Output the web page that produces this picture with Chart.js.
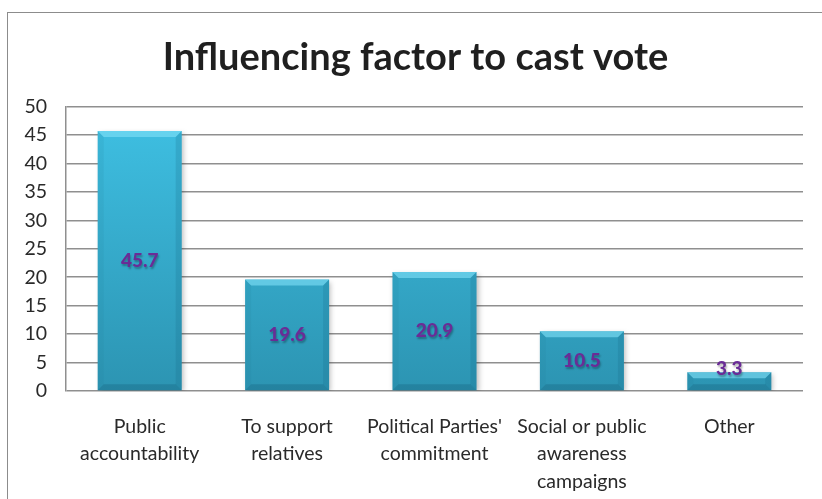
<!DOCTYPE html>
<html>
<head>
<meta charset="utf-8">
<script src="https://cdn.jsdelivr.net/npm/chart.js@4/dist/chart.umd.min.js"></script>
<style>
    html, body { margin: 0; padding: 0; background: #fff; overflow: hidden; }
    #wrap { position: relative; width: 822px; height: 499px; }
    #frame {
        position: absolute; left: 7px; top: 12px; right: -10px; bottom: -10px;
        border: 1.5px solid #8c8c8c; pointer-events: none;
    }
</style>
</head>
<body>
<div id="wrap">
    <canvas id="voteChart" width="822" height="499"></canvas>
    <div id="frame"></div>
</div>
<script>
// Factores que influyen en el voto (porcentaje)
const categories = [
    ['Public', 'accountability'],
    ['To support', 'relatives'],
    ["Political Parties'", 'commitment'],
    ['Social or public', 'awareness', 'campaigns'],
    'Other'
];
const percents = [45.7, 19.6, 20.9, 10.5, 3.3];
const yTicks = [0, 5, 10, 15, 20, 25, 30, 35, 40, 45, 50];

const FONT = 'Lato, "Open Sans", sans-serif';
const gridGray = '#8f8f8f';

// Relleno principal de cada barra: degradado vertical claro -> oscuro
function barFill(context) {
    const { chart } = context;
    const area = chart.chartArea;
    if (!area) return '#38b5d8';
    const g = chart.ctx.createLinearGradient(0, area.top, 0, area.bottom);
    g.addColorStop(0, '#3fc1e4');
    g.addColorStop(1, '#2c94b2');
    return g;
}

// El título va centrado sobre el marco exterior, un poco a la derecha
const titleShift = {
    id: 'titleShift',
    afterLayout(chart) {
        const tb = chart.titleBlock;
        if (!tb) return;
        tb.left += 9;
        tb.right += 9;
    }
};

const bevelBars = {
    id: 'bevelBars',
    beforeDatasetsDraw(chart) {
        const c = chart.ctx;
        c.save();
        c.shadowColor = 'rgba(0,0,0,0.25)';
        c.shadowBlur = 5;
        c.shadowOffsetX = 2;
        c.shadowOffsetY = 2;
    },
    afterDatasetsDraw(chart) {
        const c = chart.ctx;
        c.restore();
        const meta = chart.getDatasetMeta(0);
        meta.data.forEach(bar => {
            const { x, y, base, width } = bar.getProps(['x', 'y', 'base', 'width'], true);
            const l = x - width / 2, r = x + width / 2, t = y, b = base;
            const h = b - t;
            const e = Math.min(6, h / 3);
            c.save();
            // faceta superior
            c.fillStyle = 'rgba(130,225,248,0.6)';
            c.beginPath();
            c.moveTo(l, t); c.lineTo(r, t); c.lineTo(r - e, t + e); c.lineTo(l + e, t + e);
            c.closePath(); c.fill();
            // faceta izquierda
            c.fillStyle = 'rgba(30,120,150,0.12)';
            c.beginPath();
            c.moveTo(l, t); c.lineTo(l + e, t + e); c.lineTo(l + e, b - e); c.lineTo(l, b);
            c.closePath(); c.fill();
            // faceta derecha
            c.fillStyle = 'rgba(20,100,130,0.2)';
            c.beginPath();
            c.moveTo(r, t); c.lineTo(r - e, t + e); c.lineTo(r - e, b - e); c.lineTo(r, b);
            c.closePath(); c.fill();
            // faceta inferior
            c.fillStyle = 'rgba(20,90,115,0.3)';
            c.beginPath();
            c.moveTo(l, b); c.lineTo(l + e, b - e); c.lineTo(r - e, b - e); c.lineTo(r, b);
            c.closePath(); c.fill();
            c.restore();
        });
    }
};

// Etiquetas de valor, centradas en la barra
const valueLabels = {
    id: 'valueLabels',
    afterDatasetsDraw(chart) {
        const c = chart.ctx;
        const meta = chart.getDatasetMeta(0);
        c.save();
        c.font = '900 19px ' + FONT;
        c.textAlign = 'center';
        c.textBaseline = 'middle';
        c.fillStyle = '#6a2c96';
        c.shadowColor = 'rgba(0,0,0,0.3)';
        c.shadowBlur = 2;
        c.shadowOffsetX = 1;
        c.shadowOffsetY = 2;
        meta.data.forEach((bar, i) => {
            const { x, y, base } = bar.getProps(['x', 'y', 'base'], true);
            const ly = Math.min((y + base) / 2, base - 21);
            c.fillText(percents[i].toFixed(1), x, ly);
        });
        c.restore();
    }
};

new Chart(document.getElementById('voteChart'), {
    type: 'bar',
    data: {
        labels: categories,
        datasets: [{
            data: percents,
            backgroundColor: barFill,
            borderWidth: 0,
            categoryPercentage: 1,
            barPercentage: 0.57
        }]
    },
    options: {
        responsive: false,
        animation: false,
        layout: { padding: { top: 12, left: 10, right: 19, bottom: 0 } },
        plugins: {
            legend: { display: false },
            tooltip: { enabled: false },
            title: {
                display: true,
                text: 'Influencing factor to cast vote',
                color: '#1f1f1f',
                font: { family: FONT, size: 38, weight: 'bold', lineHeight: 1.2 },
                padding: { top: 23, bottom: 26 }
            }
        },
        scales: {
            x: {
                grid: { display: false },
                border: { display: false },
                ticks: {
                    color: '#2a2a2a',
                    font: { family: FONT, size: 19.5, lineHeight: 1.4 },
                    padding: 14,
                    maxRotation: 0,
                    autoSkip: false
                },
                afterFit(scale) { scale.height = 108; }
            },
            y: {
                min: 0,
                max: 50,
                afterBuildTicks(scale) { scale.ticks = yTicks.map(v => ({ value: v })); },
                grid: { color: gridGray, lineWidth: 1.5, drawTicks: false },
                border: { display: true, color: gridGray, width: 1.5 },
                ticks: {
                    color: '#2a2a2a',
                    font: { family: FONT, size: 19.5 },
                    padding: 19
                },
                afterFit(scale) { scale.width = 56; }
            }
        }
    },
    plugins: [titleShift, bevelBars, valueLabels]
});
</script>
</body>
</html>
